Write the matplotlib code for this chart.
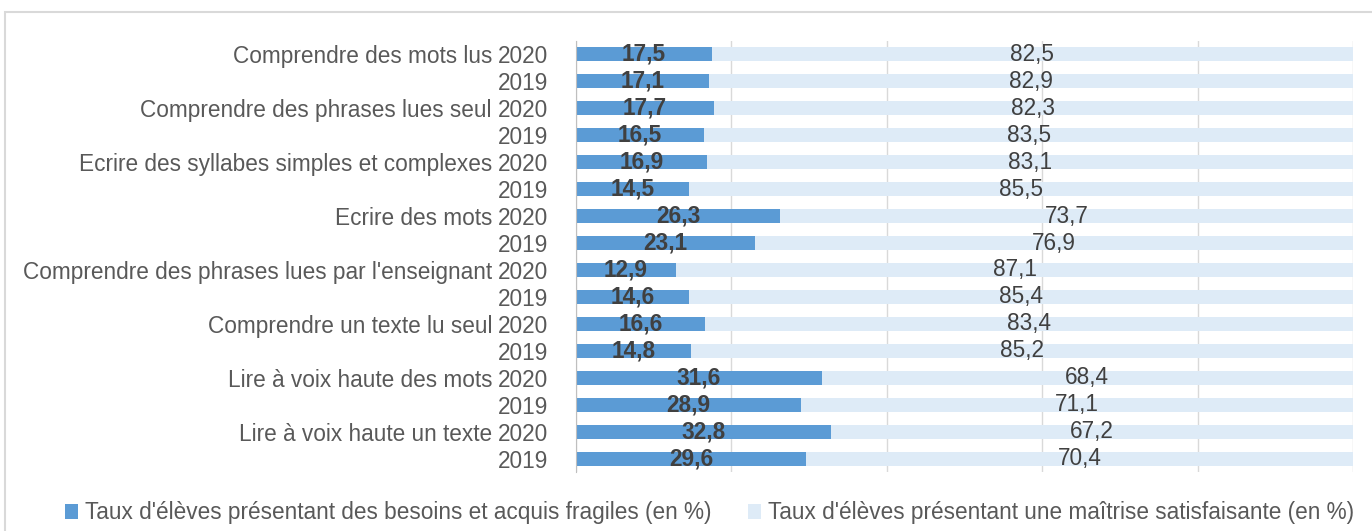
import matplotlib
matplotlib.use("Agg")
import matplotlib.pyplot as plt
import matplotlib.patches as mpatches
import numpy as np

plt.rcParams['font.family'] = ['Liberation Sans', 'DejaVu Sans']

categories = ["Comprendre des mots lus", "Comprendre des phrases lues seul",
              "Ecrire des syllabes simples et complexes", "Ecrire des mots",
              "Comprendre des phrases lues par l'enseignant", "Comprendre un texte lu seul",
              "Lire à voix haute des mots", "Lire à voix haute un texte"]
years = ["2020", "2019"]
fragile_2020 = [17.5, 17.7, 16.9, 26.3, 12.9, 16.6, 31.6, 32.8]
fragile_2019 = [17.1, 16.5, 14.5, 23.1, 14.6, 14.8, 28.9, 29.6]
satisf_2020 = [82.5, 82.3, 83.1, 73.7, 87.1, 83.4, 68.4, 67.2]
satisf_2019 = [82.9, 83.5, 85.5, 76.9, 85.4, 85.2, 71.1, 70.4]

fragile = []
satisf = []
ylabels = []
for i in range(len(categories)):
    fragile += [fragile_2020[i], fragile_2019[i]]
    satisf += [satisf_2020[i], satisf_2019[i]]
    ylabels += years

dark = "#5B9BD5"
light = "#DEEBF7"
txt = "#595959"
lbl = "#404040"
fs = 16.3

fig = plt.figure(figsize=(13.72, 5.31), dpi=100)
fig.patches.append(mpatches.Rectangle((5 / 1372, -0.1), 1.1, 1 - 12 / 531 + 0.1,
                                      transform=fig.transFigure, fill=False,
                                      edgecolor="#D9D9D9", linewidth=1.5))
ax = fig.add_axes([576 / 1372, 1 - 472 / 531, (1353 - 576) / 1372, (472 - 41) / 531])

y = np.arange(len(fragile))
b1 = ax.barh(y, fragile, height=0.52, color=dark, zorder=2)
b2 = ax.barh(y, satisf, left=fragile, height=0.52, color=light, zorder=2)

for yi, f, s in zip(y, fragile, satisf):
    ax.text(f / 2, yi, f"{f:.1f}".replace(".", ","), ha="center", va="center",
            fontsize=fs, fontweight="bold", color=lbl, zorder=3)
    ax.text(f + s / 2, yi, f"{s:.1f}".replace(".", ","), ha="center", va="center",
            fontsize=fs, color=lbl, zorder=3)

ax.set_xlim(0, 100)
ax.set_ylim(len(fragile) - 0.5, -0.5)
ax.set_xticks(np.arange(0, 101, 20))
ax.set_xticklabels([])
ax.tick_params(axis="x", length=0)
ax.grid(axis="x", color="#D9D9D9", linewidth=1, zorder=0)
ax.set_yticks(y)
ax.set_yticklabels(ylabels, fontsize=fs, color=txt)
ax.tick_params(axis="y", length=0, pad=20)
for sp in ["top", "right", "bottom"]:
    ax.spines[sp].set_visible(False)
ax.spines["left"].set_color("#BFBFBF")

for i, c in enumerate(categories):
    ax.text(-84 / 777 * 100, 2 * i, c, ha="right", va="center_baseline", fontsize=fs,
            color=txt)

leg = fig.legend([b1, b2],
                 ["Taux d'élèves présentant des besoins et acquis fragiles (en %)",
                  "Taux d'élèves présentant une maîtrise satisfaisante (en %)"],
                 loc="center", bbox_to_anchor=(0.517, 1 - 513 / 531), ncol=2,
                 frameon=False, fontsize=fs, handlelength=0.6, handleheight=0.6,
                 handletextpad=0.3, columnspacing=1.6, labelcolor=txt)

fig.savefig("out.png", dpi=100)
